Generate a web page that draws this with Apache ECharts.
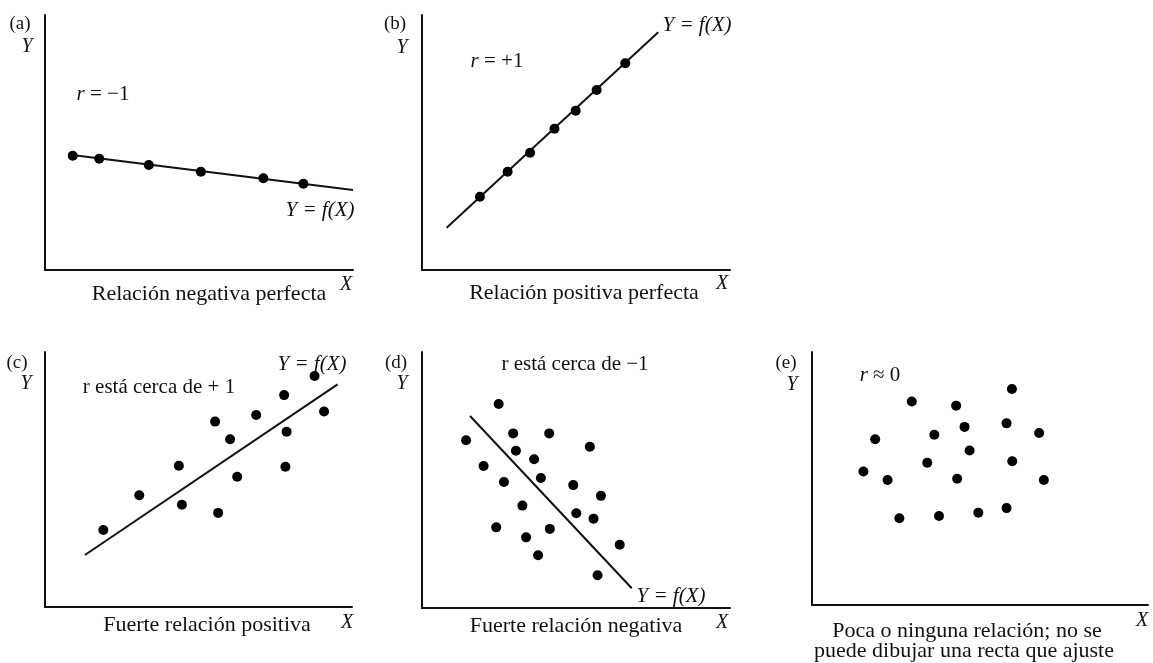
<!DOCTYPE html>
<html>
<head>
<meta charset="utf-8">
<script src="https://cdn.jsdelivr.net/npm/echarts@6/dist/echarts.min.js"></script>
<style>
  html, body { margin: 0; padding: 0; background: #fff; }
  #chart { width: 1153px; height: 663px; }
</style>
</head>
<body>
<div id="chart"></div>
<script>
// panel (a) perfect negative
const aX = [0.90, 1.76, 3.37, 5.06, 7.09, 8.39];
const aY = [4.48, 4.36, 4.12, 3.85, 3.60, 3.38];
const aLineX = [0.88, 10];
const aLineY = [4.51, 3.14];

// panel (b) perfect positive
const bX = [1.88, 2.78, 3.51, 4.30, 4.99, 5.67, 6.60];
const bY = [2.87, 3.85, 4.60, 5.54, 6.25, 7.06, 8.11];
const bLineX = [0.80, 7.67];
const bLineY = [1.66, 9.32];

// panel (c) strong positive
const cX = [1.90, 3.07, 4.36, 4.46, 5.54, 5.64, 6.03, 6.26, 6.88, 7.79, 7.87, 7.83, 8.78, 9.09];
const cY = [3.02, 4.38, 5.54, 4.01, 7.27, 3.69, 6.58, 5.11, 7.53, 8.31, 6.87, 5.50, 9.06, 7.67];
const cLineX = [1.30, 9.53];
const cLineY = [2.04, 8.73];

// panel (d) strong negative
const dX = [2.49, 1.43, 2.96, 3.05, 4.13, 3.64, 2.00, 3.86, 2.66, 5.45, 4.91, 5.81, 3.26, 5.01, 5.57, 2.41, 4.15, 3.38, 6.42, 3.77, 5.70];
const dY = [7.97, 6.55, 6.82, 6.14, 6.82, 5.81, 5.55, 5.08, 4.92, 6.30, 4.80, 4.38, 4.00, 3.70, 3.49, 3.15, 3.09, 2.76, 2.47, 2.06, 1.28];
const dLineX = [1.56, 6.81];
const dLineY = [7.50, 0.77];

// panel (e) no relation
const eX = [5.95, 2.97, 4.29, 5.79, 4.54, 6.76, 3.64, 1.88, 4.69, 3.43, 5.96, 1.53, 2.25, 4.32, 6.90, 5.79, 4.95, 3.78, 2.60];
const eY = [8.54, 8.04, 7.88, 7.18, 7.04, 6.80, 6.73, 6.55, 6.11, 5.62, 5.68, 5.28, 4.94, 4.99, 4.94, 3.83, 3.65, 3.52, 3.43];

const ink = '#111';
const serif = '"Liberation Serif", "DejaVu Serif", serif';

function zip(xs, ys) {
    return xs.map((x, i) => [x, ys[i]]);
}

const grids = [
    { left: 45, top: 15, width: 308, height: 255 },
    { left: 422, top: 15, width: 308, height: 255 },
    { left: 45, top: 352, width: 307, height: 255 },
    { left: 422, top: 352, width: 308, height: 256 },
    { left: 812, top: 352, width: 336, height: 253 }
];

function axis(i) {
    return {
        type: 'value',
        gridIndex: i,
        min: 0,
        max: 10,
        axisLine: { show: true, lineStyle: { color: ink, width: 2 } },
        axisTick: { show: false },
        axisLabel: { show: false },
        splitLine: { show: false }
    };
}

function dots(i, xs, ys) {
    return {
        type: 'scatter',
        xAxisIndex: i,
        yAxisIndex: i,
        symbolSize: 10,
        itemStyle: { color: '#000', opacity: 1 },
        data: zip(xs, ys),
        z: 3
    };
}

function fitLine(i, xs, ys) {
    return {
        type: 'line',
        xAxisIndex: i,
        yAxisIndex: i,
        showSymbol: false,
        lineStyle: { color: ink, width: 2 },
        data: zip(xs, ys),
        z: 2
    };
}

// text helper
function txt(x, y, text, size, italic, rich) {
    return {
        type: 'text',
        style: {
            x: x,
            y: y,
            text: text,
            font: (italic ? 'italic ' : '') + size + 'px ' + serif,
            fill: ink,
            textAlign: 'center',
            textVerticalAlign: 'middle',
            rich: rich
        }
    };
}

const ir = {
    i: { fontStyle: 'italic', fontFamily: serif, fontSize: 21, fill: ink }
};

const labels = [
    // (a)
    txt(20, 24, '(a)', 19), txt(27, 47, 'Y', 20, true),
    txt(103, 94, '{i|r} = −1', 21, false, ir),
    txt(320, 210, 'Y = f(X)', 21, true),
    txt(346, 285, 'X', 20, true),
    txt(209, 294, 'Relación negativa perfecta', 22),
    // (b)
    txt(395, 24, '(b)', 19), txt(402, 48, 'Y', 20, true),
    txt(497, 61, '{i|r} = +1', 21, false, ir),
    txt(697, 25, 'Y = f(X)', 21, true),
    txt(722, 284, 'X', 20, true),
    txt(584, 293, 'Relación positiva perfecta', 22),
    // (c)
    txt(17, 363, '(c)', 19), txt(26, 384, 'Y', 20, true),
    txt(159, 387, 'r está cerca de + 1', 21),
    txt(312, 364, 'Y = f(X)', 21, true),
    txt(347, 623, 'X', 20, true),
    txt(207, 625, 'Fuerte relación positiva', 22),
    // (d)
    txt(396, 363, '(d)', 19), txt(402, 384, 'Y', 20, true),
    txt(575, 364, 'r está cerca de −1', 21),
    txt(671, 596, 'Y = f(X)', 21, true),
    txt(722, 623, 'X', 20, true),
    txt(576, 626, 'Fuerte relación negativa', 22),
    // (e)
    txt(786, 363, '(e)', 19), txt(792, 385, 'Y', 20, true),
    txt(880, 375, '{i|r} ≈ 0', 21, false, ir),
    txt(1142, 621, 'X', 20, true),
    txt(967, 631, 'Poca o ninguna relación; no se', 22),
    txt(964, 651, 'puede dibujar una recta que ajuste', 22)
];

const myChart = echarts.init(document.getElementById('chart'));
const option = {
    backgroundColor: '#fff',
    animation: false,
    grid: grids,
    xAxis: grids.map((g, i) => axis(i)),
    yAxis: grids.map((g, i) => axis(i)),
    series: [
        fitLine(0, aLineX, aLineY), dots(0, aX, aY),
        fitLine(1, bLineX, bLineY), dots(1, bX, bY),
        fitLine(2, cLineX, cLineY), dots(2, cX, cY),
        fitLine(3, dLineX, dLineY), dots(3, dX, dY),
        dots(4, eX, eY)
    ],
    graphic: labels
};
myChart.setOption(option);
</script>
</body>
</html>
